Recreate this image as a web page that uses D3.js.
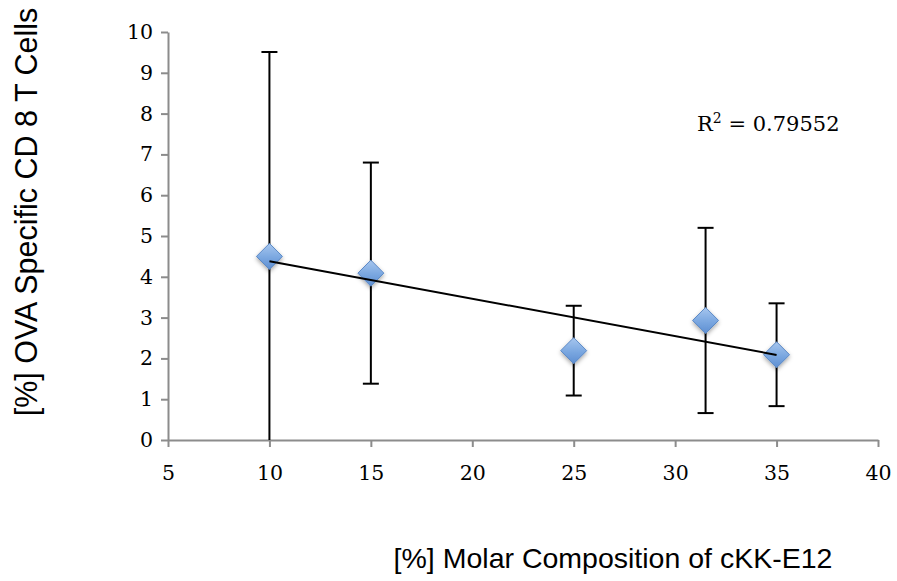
<!DOCTYPE html>
<html>
<head>
<meta charset="utf-8">
<script src="https://cdn.jsdelivr.net/npm/d3@7"></script>
<style>
  html, body { margin: 0; padding: 0; background: #fff; }
  svg { display: block; }
</style>
</head>
<body>
<svg id="chart" width="897" height="581"></svg>
<script>
// Molar composition (%) and measured response with symmetric error
const composition = [10, 15, 25, 31.5, 35];
const response    = [4.5, 4.09, 2.19, 2.93, 2.09];
const errorSize   = [5.01, 2.71, 1.1, 2.27, 1.26];
const xTicks = [5, 10, 15, 20, 25, 30, 35, 40];
const yTicks = [0, 1, 2, 3, 4, 5, 6, 7, 8, 9, 10];
const rSquaredLabel = "0.79552";

const svg = d3.select("#chart");
const margin = { left: 168, top: 32, right: 19, bottom: 141 };
const W = 897, H = 581;
const serif = "'DejaVu Serif', 'Liberation Serif', serif";

const x = d3.scaleLinear().domain([5, 40]).range([margin.left, W - margin.right]);
const y = d3.scaleLinear().domain([0, 10]).range([H - margin.bottom, margin.top]);

const defs = svg.append("defs");
defs.append("clipPath").attr("id", "plotClip")
  .append("rect")
  .attr("x", margin.left).attr("y", margin.top)
  .attr("width", x(40) - margin.left).attr("height", y(0) - margin.top);

const grad = defs.append("linearGradient").attr("id", "markerFill")
  .attr("x1", "0").attr("y1", "0").attr("x2", "0").attr("y2", "1");
grad.append("stop").attr("offset", "0%").attr("stop-color", "#a7c6ee");
grad.append("stop").attr("offset", "55%").attr("stop-color", "#7aa7e0");
grad.append("stop").attr("offset", "100%").attr("stop-color", "#5e8fd2");

const shadow = defs.append("filter").attr("id", "markerShadow")
  .attr("x", "-50%").attr("y", "-50%").attr("width", "200%").attr("height", "200%");
shadow.append("feDropShadow")
  .attr("dx", 0).attr("dy", 2).attr("stdDeviation", 2)
  .attr("flood-color", "#000").attr("flood-opacity", 0.35);

// Axes
const axisColor = "#8c8c8c";
const xAxis = svg.append("g")
  .attr("transform", `translate(0,${y(0)})`)
  .call(d3.axisBottom(x).tickValues(xTicks).tickSize(7).tickPadding(18).tickSizeOuter(0));
const yAxis = svg.append("g")
  .attr("transform", `translate(${x(5)},0)`)
  .call(d3.axisLeft(y).tickValues(yTicks).tickSize(7).tickPadding(8).tickSizeOuter(0));

[xAxis, yAxis].forEach(g => {
  g.select(".domain").attr("stroke", axisColor).attr("stroke-width", 2);
  g.selectAll(".tick line").attr("stroke", axisColor).attr("stroke-width", 2);
  g.selectAll(".tick text")
    .attr("fill", "#000")
    .style("font-family", serif)
    .style("font-size", "20.5px");
});

const plot = svg.append("g").attr("clip-path", "url(#plotClip)");

// Error bars
const points = composition.map((c, i) => ({ c, v: response[i], e: errorSize[i] }));
const capHalf = 8;
const eb = plot.selectAll(".err").data(points).enter().append("g").attr("class", "err")
  .attr("stroke", "#000").attr("stroke-width", 2);
eb.append("line")
  .attr("x1", d => x(d.c)).attr("x2", d => x(d.c))
  .attr("y1", d => y(d.v + d.e)).attr("y2", d => y(d.v - d.e));
eb.append("line")
  .attr("x1", d => x(d.c) - capHalf).attr("x2", d => x(d.c) + capHalf)
  .attr("y1", d => y(d.v + d.e)).attr("y2", d => y(d.v + d.e));
eb.append("line")
  .attr("x1", d => x(d.c) - capHalf).attr("x2", d => x(d.c) + capHalf)
  .attr("y1", d => y(d.v - d.e)).attr("y2", d => y(d.v - d.e));

// Diamond markers
const half = 13;
svg.selectAll(".pt").data(points).enter().append("path").attr("class", "pt")
  .attr("d", d => {
    const cx = x(d.c), cy = y(d.v);
    return `M${cx},${cy - half}L${cx + half},${cy}L${cx},${cy + half}L${cx - half},${cy}Z`;
  })
  .attr("fill", "url(#markerFill)")
  .attr("stroke", "#5a88c6").attr("stroke-width", 1)
  .attr("filter", "url(#markerShadow)");

// Least-squares linear trend line
const mx = d3.mean(composition), my = d3.mean(response);
const sxy = d3.sum(composition, (c, i) => (c - mx) * (response[i] - my));
const sxx = d3.sum(composition, c => (c - mx) * (c - mx));
const slope = sxy / sxx, intercept = my - slope * mx;
const xs = d3.extent(composition);
svg.append("line")
  .attr("x1", x(xs[0])).attr("y1", y(intercept + slope * xs[0]))
  .attr("x2", x(xs[1])).attr("y2", y(intercept + slope * xs[1]))
  .attr("stroke", "#000").attr("stroke-width", 2);

// R² annotation
const rt = svg.append("text")
  .attr("x", 697).attr("y", 131)
  .style("font-family", serif)
  .style("font-size", "21px").attr("fill", "#000");
rt.append("tspan").text("R");
rt.append("tspan").attr("dy", -8).style("font-size", "14px").text("2");
rt.append("tspan").attr("dy", 8).text(" = " + rSquaredLabel);

// Axis titles
svg.append("text")
  .attr("x", 613).attr("y", 568)
  .attr("text-anchor", "middle")
  .style("font-family", "'Liberation Sans', Arial, sans-serif")
  .style("font-size", "28.5px").attr("fill", "#000")
  .text("[%] Molar Composition of cKK-E12");

svg.append("text")
  .attr("transform", "translate(37,212) rotate(-90)")
  .attr("text-anchor", "middle")
  .style("font-family", "'Liberation Sans', Arial, sans-serif")
  .style("font-size", "30.5px").attr("fill", "#000")
  .text("[%] OVA Specific CD 8 T Cells");
</script>
</body>
</html>
